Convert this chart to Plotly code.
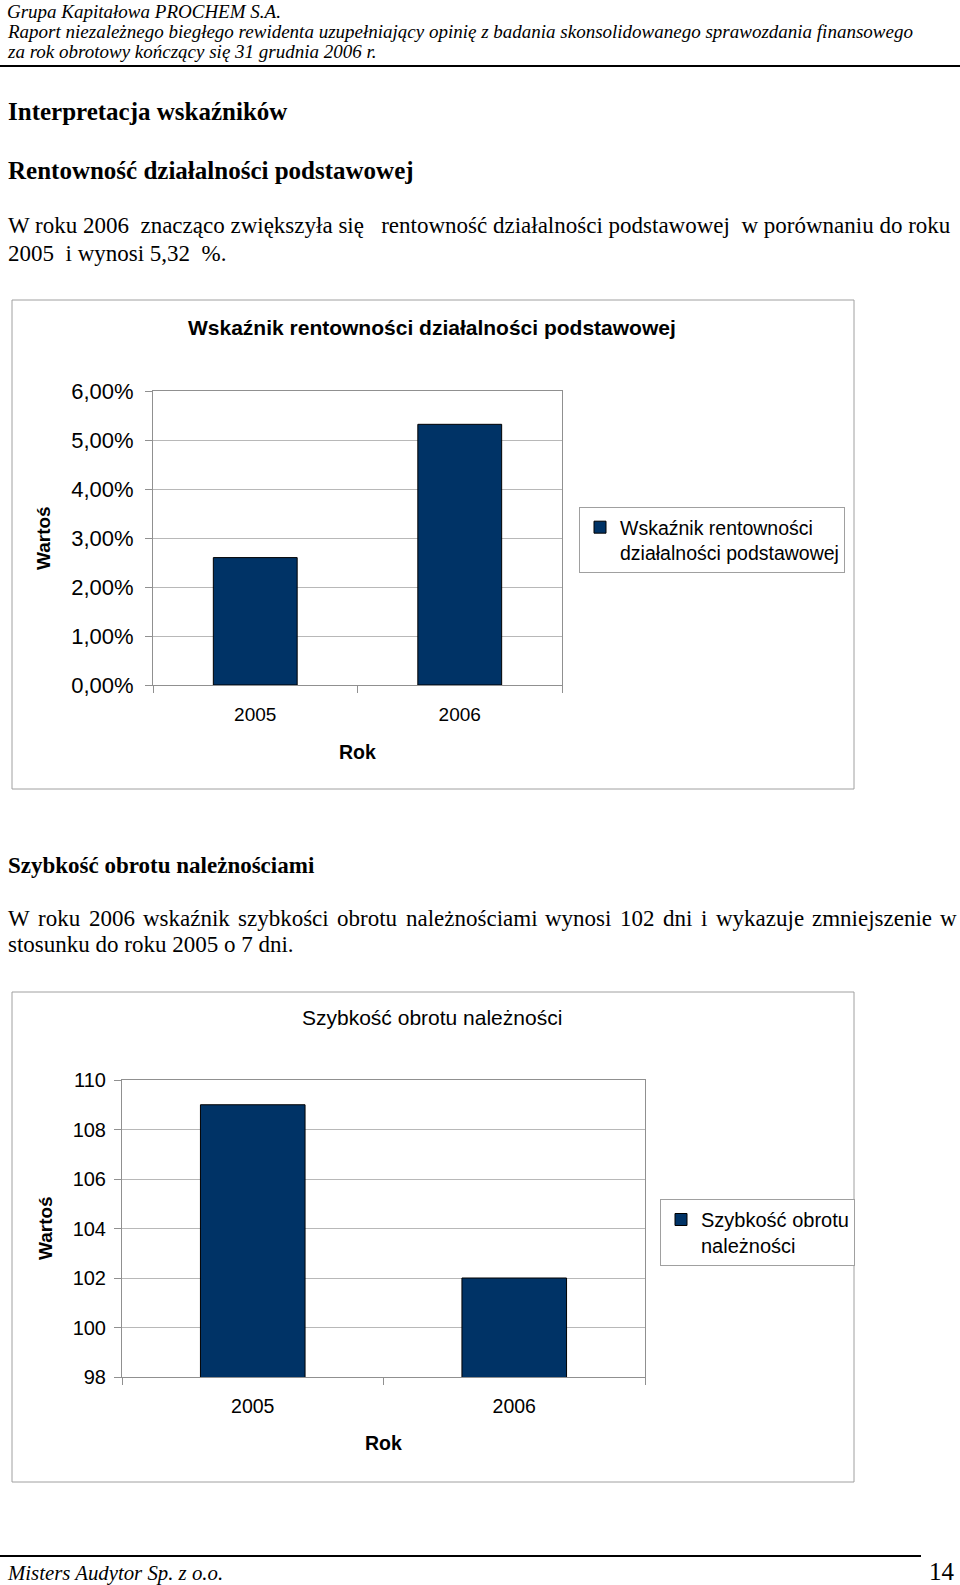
import plotly.graph_objects as go

# ---------------- data ----------------
years = ["2005", "2006"]
rentownosc = [0.026, 0.0532]          # Wskaźnik rentowności działalności podstawowej
szybkosc = [109, 102]                  # Szybkość obrotu należności (dni)
rent_ticks = [0, 0.01, 0.02, 0.03, 0.04, 0.05, 0.06]
szyb_ticks = [98, 100, 102, 104, 106, 108, 110]

W, H = 960, 1585
def X(px):
    return px / W
def Y(py):
    return 1 - py / H

SANS = "Liberation Sans, Arial, sans-serif"
SERIF = "Liberation Serif, Times New Roman, serif"
BAR = "#003366"
GRID = "#b8b8b8"
FRAME = "#a0a0a0"

fig = go.Figure()
fig.add_trace(go.Bar(x=years, y=rentownosc, width=0.41, marker=dict(color=BAR, line=dict(color="#000000", width=1)),
                     name="Wskaźnik rentowności<br>działalności podstawowej", xaxis="x", yaxis="y", legend="legend"))
fig.add_trace(go.Bar(x=years, y=szybkosc, width=0.40, marker=dict(color=BAR, line=dict(color="#000000", width=1)),
                     name="Szybkość obrotu<br>należności", xaxis="x2", yaxis="y2", legend="legend2"))

axis_common = dict(showline=True, linecolor="#909090", linewidth=1, mirror=True, ticks="outside",
                   tickcolor="#909090", ticklen=7, fixedrange=True, zeroline=False, automargin=False)

layout = dict(
    width=W, height=H, margin=dict(l=0, r=0, t=0, b=0, autoexpand=False), paper_bgcolor="white",
    plot_bgcolor="white", separators=",.", showlegend=True,
    xaxis=dict(domain=[X(153), X(562)], anchor="y", type="category", tickson="boundaries", showgrid=False,
               tickfont=dict(family=SANS, size=19, color="black"), ticklabelstandoff=12, **axis_common),
    yaxis=dict(domain=[Y(685), Y(391)], anchor="x", range=[0, 0.06], tickvals=rent_ticks, tickformat=".2%",
               showgrid=True, gridcolor=GRID, tickfont=dict(family=SANS, size=22, color="black"),
               ticklabelstandoff=7, **axis_common),
    xaxis2=dict(domain=[X(122), X(645)], anchor="y2", type="category", tickson="boundaries", showgrid=False,
                tickfont=dict(family=SANS, size=19.5, color="black"), ticklabelstandoff=12, **axis_common),
    yaxis2=dict(domain=[Y(1377), Y(1080)], anchor="x2", range=[98, 110], tickvals=szyb_ticks,
                showgrid=True, gridcolor=GRID, tickfont=dict(family=SANS, size=20, color="black"),
                ticklabelstandoff=4, **axis_common),
    legend=dict(x=X(579), y=Y(507), xanchor="left", yanchor="top", bordercolor=FRAME, borderwidth=1,
                bgcolor="white", font=dict(family=SANS, size=19.5, color="black"), valign="top"),
    legend2=dict(x=X(660), y=Y(1199), xanchor="left", yanchor="top", bordercolor=FRAME, borderwidth=1,
                 bgcolor="white", font=dict(family=SANS, size=20, color="black"), valign="top"),
)
fig.update_layout(**layout)

ann = []
def text(x, y, s, size, family=SERIF, bold=False, italic=False, xanchor="left", angle=0, color="black"):
    ann.append(dict(x=X(x), y=Y(y), xref="paper", yref="paper", text=s, showarrow=False,
                    xanchor=xanchor, yanchor="middle", textangle=angle,
                    font=dict(family=family, size=size, color=color,
                              weight="bold" if bold else "normal",
                              style="italic" if italic else "normal")))

NB = "\u00a0"
# header
text(5, 11, "Grupa Kapitałowa PROCHEM S.A.", 19, italic=True)
text(5, 31, "Raport niezależnego biegłego rewidenta uzupełniający opinię z badania skonsolidowanego sprawozdania finansowego", 19, italic=True)
text(5, 52, "za rok obrotowy kończący się 31 grudnia 2006 r.", 19, italic=True)
# headings and paragraphs
text(6, 112, "Interpretacja wskaźników", 25, bold=True)
text(6, 170, "Rentowność działalności podstawowej", 25, bold=True)
text(6, 225, "W roku 2006" + NB*2 + "znacząco zwiększyła się" + NB*3 + "rentowność działalności podstawowej" + NB*2 + "w porównaniu do roku", 23)
text(6, 253, "2005" + NB*2 + "i wynosi 5,32" + NB*2 + "%.", 23)
text(6, 865, "Szybkość obrotu należnościami", 23, bold=True)

# justified line (Times/Liberation Serif word widths in em)
words = ["W", "roku", "2006", "wskaźnik", "szybkości", "obrotu", "należnościami", "wynosi", "102", "dni", "i",
         "wykazuje", "zmniejszenie", "w"]
word_em = [0.944, 1.833, 2.0, 3.777, 3.944, 2.611, 5.721, 2.889, 1.5, 1.278, 0.278, 3.832, 5.221, 0.722]
fs = 23
left, right = 6, 955
gap = (right - left - sum(word_em) * fs) / (len(words) - 1)
pos = left
for w_, em in zip(words, word_em):
    text(pos, 918, w_, fs)
    pos += em * fs + gap
text(6, 945, "stosunku do roku 2005 o 7 dni.", 23)
# footer
text(5, 1573, "Misters Audytor Sp. z o.o.", 20.8, italic=True)
text(957, 1571, "14", 25, xanchor="right")
# chart titles
text(432, 327, "Wskaźnik rentowności działalności podstawowej", 21, family=SANS, bold=True, xanchor="center")
text(432, 1017, "Szybkość obrotu należności", 21, family=SANS, xanchor="center")
# axis titles
text(357, 752, "Rok", 19.5, family=SANS, bold=True, xanchor="center")
text(383, 1443, "Rok", 19.5, family=SANS, bold=True, xanchor="center")
text(43, 538, "Wartoś", 19, family=SANS, bold=True, xanchor="center", angle=-90)
text(45, 1228, "Wartoś", 19, family=SANS, bold=True, xanchor="center", angle=-90)
fig.update_layout(annotations=ann)

shapes = [
    dict(type="line", xref="paper", yref="paper", x0=0, x1=1, y0=Y(66), y1=Y(66), line=dict(color="black", width=2)),
    dict(type="line", xref="paper", yref="paper", x0=0, x1=X(921), y0=Y(1556), y1=Y(1556), line=dict(color="black", width=2)),
    dict(type="rect", xref="paper", yref="paper", x0=X(12), x1=X(854), y0=Y(300), y1=Y(789), line=dict(color=FRAME, width=1), layer="below"),
    dict(type="rect", xref="paper", yref="paper", x0=X(12), x1=X(854), y0=Y(992), y1=Y(1482), line=dict(color=FRAME, width=1), layer="below"),
]
fig.update_layout(shapes=shapes)

fig.write_html("out.html", config={"displayModeBar": False, "staticPlot": False},
               post_script="document.body.style.margin='0';document.body.style.overflow='hidden';")
